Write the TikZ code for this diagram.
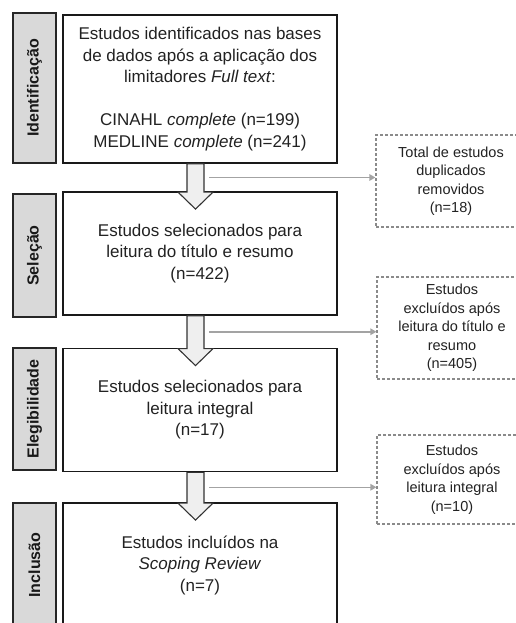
\documentclass[tikz,border=0pt]{standalone}
\usepackage{fontspec}
\setmainfont{Liberation Sans}
\usetikzlibrary{arrows.meta,calc}
\definecolor{txt}{HTML}{222222}
\definecolor{sidefill}{HTML}{D9D9D9}
\definecolor{dashcol}{HTML}{8A8A8A}
\definecolor{conncol}{HTML}{A3A3A3}
\definecolor{arrfill}{HTML}{EFEFEF}
\tikzset{
  mainbox/.style={draw=black!90, line width=1.8pt, fill=white, minimum width=274pt, inner sep=0pt, align=center, text=txt, font=\fontsize{17}{21.5}\selectfont},
  sidebox/.style={draw=black!85, line width=1.8pt, fill=sidefill, minimum width=43pt, inner sep=0pt},
  sidelabel/.style={rotate=90, text=black!90, font=\fontsize{16}{18}\selectfont\bfseries, inner sep=0pt},
  dashbox/.style={draw=dashcol, line width=1.2pt, dash pattern=on 3pt off 2pt, fill=white, minimum width=150pt, inner sep=0pt, align=center, text=txt, font=\fontsize{14.5}{18.5}\selectfont},
  blockarrow/.style={draw=black!80, line width=1.1pt, fill=arrfill, line join=miter},
  conn/.style={draw=conncol, line width=1.5pt, -{Triangle[length=6pt,width=6.5pt]}}
}
\begin{document}
\begin{tikzpicture}[x=1pt,y=-1pt]
\useasboundingbox (0,0) rectangle (516,623);
\clip (0,0) rectangle (516,623);
\fill[white] (0,0) rectangle (516,623);
% side boxes
\node[sidebox, minimum height=150pt] (s1) at (34.5,88) {};
\node[sidelabel] (l1) at (s1) {Identificação};
\node[sidebox, minimum height=123pt] (s2) at (34.5,255.5) {};
\node[sidelabel] (l2) at (s2) {Seleção};
\node[sidebox, minimum height=122pt] (s3) at (34.5,409) {};
\node[sidelabel] (l3) at (s3) {Elegibilidade};
\node[sidebox, minimum height=124pt] (s4) at (34.5,565) {};
\node[sidelabel] (l4) at (s4) {Inclusão};
% main boxes
\node[mainbox, minimum height=148pt] (b1) at (200,89) {Estudos identificados nas bases\\de dados após a aplicação dos\\limitadores \textit{Full text}:\\[21.5pt]CINAHL \textit{complete} (n=199)\\MEDLINE \textit{complete} (n=241)};
\node[mainbox, minimum height=123pt] (b2) at (200,253.5) {Estudos selecionados para\\leitura do título e resumo\\(n=422)};
\node[mainbox, minimum height=123pt] (b3) at (200,410) {Estudos selecionados para\\leitura integral\\(n=17)};
\node[mainbox, minimum height=124pt] (b4) at (200,565) {Estudos incluídos na\\\textit{Scoping Review}\\(n=7)};
% dashed boxes
\node[dashbox, minimum height=92pt] (d1) at (451,181) {Total de estudos\\duplicados\\removidos\\(n=18)};
\node[dashbox, minimum height=102pt] (d2) at (452,328) {Estudos\\excluídos após\\leitura do título e\\resumo\\(n=405)};
\node[dashbox, minimum height=89pt] (d3) at (452,479.5) {Estudos\\excluídos após\\leitura integral\\(n=10)};
% block arrows
\foreach \a/\b in {b1/b2, b2/b3, b3/b4}{
  \draw[blockarrow] ([xshift=-13pt]\a.south) -- ([xshift=-13pt,yshift=-1pt]\b.north) -- ([xshift=-22pt,yshift=-1pt]\b.north) -- ([xshift=-4.5pt,yshift=-18pt]\b.north) -- ([xshift=13pt,yshift=-1pt]\b.north) -- ([xshift=4pt,yshift=-1pt]\b.north) -- ([xshift=4pt]\a.south) -- cycle;
}
% grey connectors
\coordinate (c1) at ([xshift=9pt]$(b1.south)!0.5!(b2.north)$);
\coordinate (c2) at ([xshift=9pt]$(b2.south)!0.5!(b3.north)$);
\coordinate (c3) at ([xshift=9pt]$(b3.south)!0.5!(b4.north)$);
\draw[conn] (c1) -- (c1 -| d1.west);
\draw[conn] (c2) -- (c2 -| d2.west);
\draw[conn] (c3) -- (c3 -| d3.west);
\end{tikzpicture}
\end{document}
